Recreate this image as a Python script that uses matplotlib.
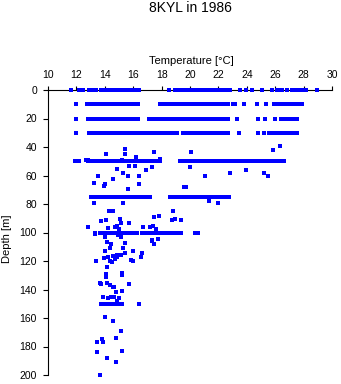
import matplotlib
matplotlib.use("Agg")
import matplotlib.pyplot as plt

plt.rcParams['font.family'] = ['Liberation Sans', 'DejaVu Sans']

title = "8KYL in 1986"
xlabel = "Temperature [°C]"
ylabel = "Depth [m]"
xticks = [10, 12, 14, 16, 18, 20, 22, 24, 26, 28, 30]
yticks = [0, 20, 40, 60, 80, 100, 120, 140, 160, 180, 200]

# Temperatures observed along the standard depth levels
row_0 = [11.6, 12.15, 12.3, 12.45, 12.9, 13.05, 13.2, 13.4, 13.7, 13.9, 14.1, 14.3, 14.5, 14.7, 14.9,
         15.1, 15.3, 15.5, 15.7, 15.9, 16.1, 16.3, 16.4, 18.55, 18.95, 19.1, 19.2, 19.4, 19.6, 19.8,
         20.0, 20.2, 20.4, 20.6, 20.8, 21.0, 21.2, 21.4, 21.6, 21.7, 21.95, 22.15, 22.35, 22.55, 22.8,
         23.55, 23.95, 24.4, 25.1, 25.8, 26.1, 26.3, 26.5, 26.8, 27.2, 27.4, 27.6, 27.8, 28.0, 28.2, 28.95]
row_10 = [11.95, 12.75, 12.9, 13.0, 13.2, 13.4, 13.6, 13.8, 14.0, 14.2, 14.4, 14.6, 14.8, 15.0, 15.2,
          15.4, 15.6, 15.8, 16.0, 16.2, 16.35, 17.9, 18.1, 18.3, 18.5, 18.7, 18.9, 19.1, 19.3, 19.5,
          19.7, 19.9, 20.1, 20.3, 20.5, 20.7, 20.9, 21.1, 21.2, 21.35, 21.55, 21.75, 21.9, 22.0, 22.2,
          22.4, 22.6, 22.7, 23.05, 23.15, 23.8, 24.7, 25.35, 25.9, 26.05, 26.3, 26.45, 26.6, 26.75,
          26.95, 27.15, 27.35, 27.55, 27.75, 27.9]
row_20 = [12.0, 12.8, 12.95, 13.2, 13.35, 13.5, 13.65, 13.85, 14.05, 14.25, 14.45, 14.65, 14.85, 15.05,
          15.25, 15.45, 15.65, 15.85, 16.05, 16.25, 16.35, 17.1, 17.3, 17.5, 17.7, 17.9, 18.1, 18.3,
          18.5, 18.7, 18.9, 19.1, 19.3, 19.5, 19.7, 19.9, 20.1, 20.3, 20.5, 20.7, 20.9, 21.1, 21.25,
          21.4, 21.6, 21.8, 22.0, 22.2, 22.4, 22.55, 22.7, 23.3, 24.8, 25.3, 26.0, 26.4, 26.6, 26.8,
          27.0, 27.2, 27.4, 27.55]
row_30 = [12.0, 12.9, 13.05, 13.2, 13.4, 13.6, 13.8, 14.0, 14.2, 14.4, 14.6, 14.8, 15.0, 15.2, 15.4,
          15.6, 15.8, 16.0, 16.2, 16.35, 16.6, 16.8, 17.0, 17.2, 17.4, 17.6, 17.8, 18.0, 18.2, 18.4,
          18.6, 18.8, 19.0, 19.1, 19.5, 19.7, 19.85, 20.05, 20.25, 20.45, 20.65, 20.85, 21.05, 21.25,
          21.45, 21.65, 21.8, 21.97, 22.15, 22.35, 22.55, 22.7, 23.45, 24.8, 25.2, 25.55, 25.8, 26.0,
          26.2, 26.4, 26.6, 26.8, 27.0, 27.2, 27.4, 27.5]
row_50 = [11.9, 12.05, 12.2, 12.85, 13.1, 13.3, 13.5, 13.7, 13.9, 14.1, 14.3, 14.5, 14.7, 14.9, 15.1,
          15.3, 15.5, 15.7, 15.9, 16.1, 16.3, 16.5, 16.7, 16.9, 17.1, 17.3, 17.4, 17.55, 17.75, 17.9,
          19.3, 19.5, 19.65, 19.7, 19.9, 20.1, 20.3, 20.5, 20.7, 20.9, 21.1, 21.2, 21.25, 21.45, 21.65,
          21.85, 21.97, 22.2, 22.4, 22.6, 22.75, 22.95, 23.15, 23.35, 23.45, 23.7, 23.9, 24.1, 24.2,
          24.45, 24.6, 24.7, 24.8, 24.95, 25.1, 25.15, 25.35, 25.55, 25.75, 25.95, 26.15, 26.35,
          26.55, 26.6]
row_75 = [13.05, 13.2, 13.37, 13.55, 13.75, 13.95, 14.15, 14.35, 14.55, 14.75, 14.95, 15.15, 15.35,
          15.55, 15.75, 15.95, 16.15, 16.35, 16.55, 16.7, 16.95, 17.2, 18.6, 18.8, 18.9, 19.1, 19.3,
          19.5, 19.7, 19.9, 20.1, 20.3, 20.5, 20.7, 20.85, 21.05, 21.25, 21.45, 21.65, 21.77, 21.9,
          22.0, 22.2, 22.4, 22.6, 22.75]
row_100 = [13.3, 13.66, 13.85, 14.05, 14.25, 14.45, 14.65, 14.85, 15.05, 15.25, 15.45, 15.65, 15.82,
           15.96, 16.15, 16.3, 16.6, 16.8, 16.95, 17.13, 17.3, 17.5, 17.7, 17.9, 18.1, 18.3, 18.5,
           18.7, 18.94, 19.2, 19.35, 20.35, 20.55]
row_150 = [13.71, 13.9, 14.1, 14.3, 14.5, 14.7, 14.9, 15.02, 15.24, 16.41]

levels = [0, 10, 20, 30, 50, 75, 100, 150]
rows = [row_0, row_10, row_20, row_30, row_50, row_75, row_100, row_150]

# Other observations (temperature, depth)
scatter_temp = [26.36, 25.87, 15.44, 14.06, 15.42, 17.49, 12.65, 12.8, 15.24, 16.22, 17.91, 20.07,
                14.84, 15.73, 16.13, 16.9, 17.35, 19.98, 23.97, 13.54, 14.6, 15.26, 15.66, 16.43,
                21.08, 22.82, 25.24, 25.52, 13.22, 14.01, 13.97, 16.43, 15.66, 19.6, 19.75,
                13.26, 15.31, 21.34, 21.95, 14.6, 14.3, 18.83, 17.49, 17.84, 15.1, 13.71, 14.11,
                15.15, 15.73, 18.96, 18.76, 19.35, 12.82, 14.2, 14.7, 14.88, 15.02, 16.71, 17.18,
                17.42, 17.61, 13.33, 14.04, 14.95, 15.15, 17.72, 17.3, 14.18, 14.44, 15.44, 17.3,
                17.49, 14.37, 15.26, 16.01, 14.04, 13.4, 13.97, 14.2, 14.37, 14.48, 14.6, 14.74,
                14.88, 14.86, 15.17, 15.44, 15.82, 15.99, 16.55, 16.64, 14.15, 14.06, 14.08, 15.21,
                15.24, 13.66, 13.73, 14.13, 14.37, 14.55, 14.67, 15.73, 14.81, 15.19, 13.9, 14.2,
                14.41, 14.65, 15.0, 14.84, 14.04, 14.6, 15.17, 13.78, 13.85, 13.47, 14.77, 13.47,
                15.24, 14.13, 14.81, 13.64]
scatter_depth = [39.5, 42.3, 41.6, 45.1, 45.1, 43.3, 49.1, 49.3, 49.1, 47.0, 48.4, 43.3,
                 55.2, 53.3, 53.3, 56.4, 54.3, 54.3, 56.4, 60.4, 62.2, 58.2, 60.4, 60.4,
                 60.6, 58.5, 58.5, 60.6, 65.3, 65.8, 67.4, 66.2, 69.2, 68.1, 68.1,
                 79.5, 79.5, 78.1, 79.5, 84.7, 85.2, 85.2, 89.3, 88.4, 90.3, 92.2, 91.2,
                 93.3, 93.3, 90.3, 91.5, 91.5, 96.4, 97.1, 96.4, 95.7, 97.3, 96.4, 96.4,
                 95.7, 97.3, 101.3, 103.2, 102.0, 103.4, 104.3, 105.5, 106.9, 107.8, 107.3, 106.0,
                 108.1, 110.9, 110.9, 113.2, 113.2, 120.2, 117.9, 117.0, 120.2, 120.9, 116.5, 118.4,
                 115.6, 117.4, 115.6, 114.2, 119.3, 120.2, 117.2, 114.2, 124.4, 129.3, 131.0, 128.4,
                 129.8, 135.2, 136.4, 135.2, 136.8, 138.2, 138.2, 136.1, 141.5, 141.0, 145.3, 146.0,
                 145.3, 145.5, 146.2, 148.1, 159.3, 162.1, 169.1, 175.0, 177.1, 177.1, 174.3, 184.1,
                 183.4, 188.3, 191.1, 200.2]

fig = plt.figure(figsize=(3.41, 3.84), dpi=100)
ax = fig.add_axes([48/341, 1-375/384, (332-48)/341, (375-90)/384])

blue = '#0000ff'
for lev, temps in zip(levels, rows):
    ax.plot(temps, [lev]*len(temps), linestyle='none', marker='s', ms=2.2, mew=0,
            color=blue, clip_on=False, zorder=3)
ax.plot(scatter_temp, scatter_depth, linestyle='none', marker='s', ms=2.2, mew=0,
        color=blue, clip_on=False, zorder=3)

ax.set_xlim(10, 30)
ax.set_ylim(200, 0)
ax.set_xticks(xticks)
ax.set_yticks(yticks)
ax.xaxis.tick_top()
ax.spines['bottom'].set_visible(False)
ax.spines['right'].set_visible(False)
for s in ('top', 'left'):
    ax.spines[s].set_linewidth(0.8)
ax.tick_params(axis='x', length=3, width=0.8, pad=4, labelsize=7.5, colors='black')
ax.tick_params(axis='y', length=3.5, width=0.8, pad=4.5, labelsize=7.5, colors='black')

fig.text(190/341, 1-8/384, title, ha='center', va='center', fontsize=10)
fig.text(191/341, 1-61/384, xlabel, ha='center', va='center', fontsize=8)
fig.text(7/341, 1-239/384, ylabel, ha='center', va='center', fontsize=8, rotation=90)

fig.savefig("out.png", dpi=100)
